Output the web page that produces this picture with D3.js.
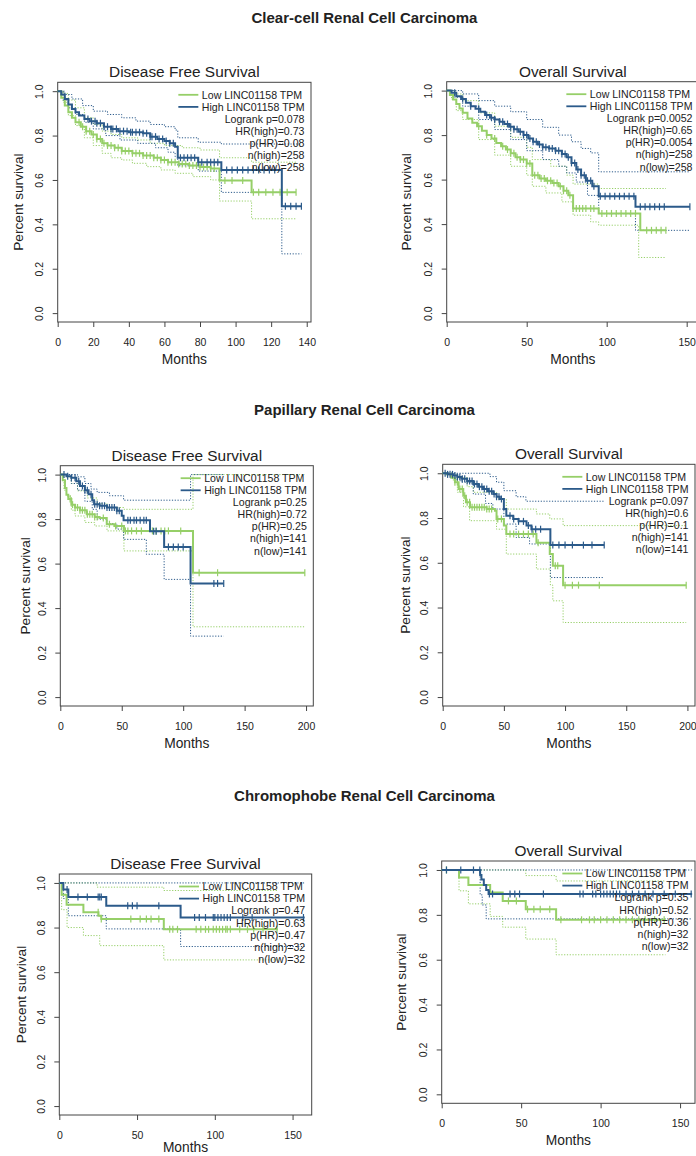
<!DOCTYPE html>
<html>
<head>
<meta charset="utf-8">
<script src="https://cdn.jsdelivr.net/npm/d3@7"></script>
<style>
  body { margin: 0; background: #fff; }
  svg { display: block; }
  text { font-family: "Liberation Sans", Arial, Helvetica, sans-serif; fill: #222; }
</style>
</head>
<body>
<svg id="chart" width="696" height="1156"></svg>
<script>
// ---------- Kaplan–Meier step data: [month, survival after this month] ----------
const groupLabels = ["Low LINC01158 TPM", "High LINC01158 TPM"];
const cancerTitles = ["Clear-cell Renal Cell Carcinoma", "Papillary Renal Cell Carcinoma", "Chromophobe Renal Cell Carcinoma"];
const panelTitles = ["Disease Free Survival", "Overall Survival"];
const yTicks = [0, 0.2, 0.4, 0.6, 0.8, 1.0];
const ticks140 = [0, 20, 40, 60, 80, 100, 120, 140];
const ticks150 = [0, 50, 100, 150];
const ticks200 = [0, 50, 100, 150, 200];

// Clear-cell RCC, disease free survival
const ccDfsHigh = [[0,1],[2,0.985],[4,0.965],[6,0.94],[8,0.92],[10,0.905],[12,0.89],[15,0.875],[18,0.865],[22,0.855],[26,0.84],[30,0.83],[34,0.82],[40,0.815],[48,0.81],[52,0.795],[56,0.785],[60,0.775],[63,0.765],[66,0.75],[67.5,0.70],[79,0.68],[92,0.645],[126,0.482],[137,0.482]];
const ccDfsHighUp = [[0,1],[4,0.985],[8,0.965],[14,0.935],[20,0.91],[28,0.895],[36,0.88],[44,0.865],[52,0.85],[60,0.84],[66,0.825],[67.5,0.79],[79,0.77],[92,0.762],[137,0.762]];
const ccDfsHighLo = [[0,1],[3,0.96],[6,0.925],[10,0.895],[15,0.86],[20,0.83],[27,0.80],[35,0.78],[45,0.765],[55,0.745],[62,0.725],[66,0.705],[67.5,0.664],[79,0.64],[92,0.544],[126,0.267],[137,0.267]];
const ccDfsHighCens = [17,19,21,22,24,26,28,30,31,33,35,37,39,41,42,44,46,48,50,52,53,55,57,59,61,63,65,69,71,73,75,77,79,81,84,86,88,90,95,98,101,104,107,110,113,116,119,122,128,131,134,137];
const ccDfsLow = [[0,1],[2,0.97],[4,0.935],[6,0.905],[8,0.88],[10,0.86],[13,0.84],[16,0.82],[19,0.805],[22,0.785],[25,0.765],[28,0.755],[32,0.745],[36,0.73],[42,0.72],[48,0.71],[54,0.70],[58,0.69],[62,0.68],[68,0.672],[74,0.665],[80,0.658],[86,0.652],[91,0.598],[109,0.545],[134,0.545]];
const ccDfsLowUp = [[0,1],[3,0.99],[6,0.96],[10,0.925],[15,0.88],[20,0.85],[25,0.82],[30,0.805],[36,0.79],[45,0.78],[52,0.765],[60,0.755],[70,0.745],[80,0.735],[91,0.70],[109,0.68],[134,0.68]];
const ccDfsLowLo = [[0,1],[3,0.95],[6,0.89],[10,0.845],[15,0.79],[20,0.755],[25,0.72],[30,0.70],[36,0.69],[42,0.675],[50,0.66],[58,0.645],[66,0.63],[76,0.615],[86,0.60],[91,0.505],[109,0.425],[134,0.425]];
const ccDfsLowCens = [12,14,16,18,20,22,24,26,28,30,32,34,36,38,40,42,44,46,48,50,52,54,56,58,60,62,64,66,68,70,72,74,76,78,80,82,84,86,88,94,98,104,110,113,117,121,125,129,134];
const ccDfsStats = ["Logrank p=0.078", "HR(high)=0.73", "p(HR)=0.08", "n(high)=258", "n(low)=258"];

// Clear-cell RCC, overall survival
const ccOsHigh = [[0,1],[3,0.99],[6,0.975],[9,0.962],[12,0.945],[15,0.93],[18,0.918],[21,0.905],[24,0.89],[27,0.878],[30,0.87],[33,0.86],[36,0.85],[39,0.838],[42,0.826],[45,0.815],[48,0.80],[51,0.785],[54,0.77],[57,0.758],[60,0.745],[64,0.74],[68,0.73],[72,0.715],[75,0.70],[78,0.675],[81,0.645],[84,0.62],[87,0.595],[91,0.57],[95,0.525],[118,0.478],[152,0.478]];
const ccOsHighUp = [[0,1],[10,0.985],[20,0.955],[30,0.93],[40,0.905],[50,0.87],[60,0.835],[70,0.80],[78,0.77],[84,0.74],[90,0.72],[95,0.635],[152,0.635]];
const ccOsHighLo = [[0,1],[5,0.97],[10,0.93],[20,0.87],[30,0.825],[40,0.78],[50,0.73],[60,0.69],[70,0.66],[75,0.63],[81,0.589],[88,0.529],[95,0.447],[118,0.372],[152,0.372]];
const ccOsHighCens = [5,10,15,20,25,28,30,33,35,38,40,42,44,46,48,50,52,54,56,58,60,62,64,66,68,70,72,74,76,78,80,82,84,86,88,90,92,96,99,102,105,108,111,114,117,121,124,127,130,133,136,152];
const ccOsLow = [[0,1],[2,0.98],[4,0.96],[6,0.94],[8,0.92],[10,0.90],[13,0.875],[16,0.855],[19,0.84],[22,0.82],[25,0.80],[28,0.785],[31,0.765],[34,0.75],[37,0.735],[40,0.718],[43,0.70],[46,0.69],[50,0.672],[53.5,0.62],[58,0.605],[62,0.595],[66,0.585],[70,0.57],[73,0.55],[76,0.53],[79,0.47],[95,0.448],[121,0.372],[137,0.372]];
const ccOsLowUp = [[0,1],[5,0.985],[10,0.955],[20,0.90],[30,0.84],[40,0.79],[50,0.745],[53.5,0.69],[65,0.66],[75,0.62],[79,0.58],[95,0.56],[137,0.56]];
const ccOsLowLo = [[0,1],[3,0.96],[6,0.91],[10,0.87],[20,0.78],[30,0.71],[40,0.66],[50,0.62],[53.5,0.57],[62,0.54],[72,0.50],[79,0.44],[90,0.41],[95,0.395],[120,0.25],[137,0.25]];
const ccOsLowCens = [20,25,30,35,38,40,42,44,46,48,50,52,55,57,59,61,63,65,67,69,71,73,75,77,79,81,83,85,87,90,92,97,100,103,106,109,112,115,118,125,128,131,134,137];
const ccOsStats = ["Logrank p=0.0052", "HR(high)=0.65", "p(HR)=0.0054", "n(high)=258", "n(low)=258"];

// Papillary RCC, disease free survival
const pDfsHigh = [[0,1],[5,0.993],[9,0.986],[13,0.97],[16,0.949],[20,0.93],[23,0.912],[26,0.885],[27.5,0.867],[32,0.86],[38,0.852],[46,0.837],[50,0.815],[51.5,0.795],[73,0.745],[84.5,0.675],[106,0.511],[133,0.511]];
const pDfsHighUp = [[0,1],[14,0.99],[20,0.96],[25,0.935],[30,0.92],[40,0.905],[51.5,0.885],[106,1.0],[133,1.0]];
const pDfsHighLo = [[0,1],[9,0.96],[14,0.93],[20,0.88],[26,0.844],[30,0.80],[38,0.78],[46,0.755],[51.5,0.709],[70,0.642],[84.5,0.529],[106,0.274],[133,0.274]];
const pDfsHighCens = [3,6,9,12,15,18,20,22,25,28,30,32,34,36,38,40,42,44,46,48,55,57,60,62,65,68,70,76,78,88,92,96,100,125,128,133];
const pDfsLow = [[0,1],[2,0.975],[3.8,0.94],[5,0.91],[6.5,0.89],[9,0.865],[12,0.852],[16,0.84],[21.5,0.822],[28,0.81],[32,0.805],[37.8,0.777],[44,0.769],[51.8,0.747],[108,0.559],[199,0.559]];
const pDfsLowUp = [[0,1],[5,0.99],[9,0.96],[14,0.927],[22,0.895],[30,0.87],[38,0.852],[51.8,0.844],[108,1.0],[199,1.0]];
const pDfsLowLo = [[0,1],[3,0.93],[5,0.904],[9,0.84],[12,0.814],[20,0.785],[28,0.769],[38,0.747],[51.8,0.657],[108,0.316],[199,0.316]];
const pDfsLowCens = [8,10,12,14,16,18,20,22,24,26,28,30,35,40,45,50,53,55,58,62,66,75,78,82,85,88,98,113,128,199];
const pDfsStats = ["Logrank p=0.25", "HR(high)=0.72", "p(HR)=0.25", "n(high)=141", "n(low)=141"];

// Papillary RCC, overall survival
const pOsHigh = [[0,1],[4,0.995],[8.7,0.99],[12,0.983],[15.5,0.975],[20,0.965],[25,0.952],[29,0.94],[33,0.93],[37,0.92],[41.3,0.907],[44,0.895],[46.7,0.885],[50,0.84],[52,0.81],[57.6,0.796],[62,0.785],[68.5,0.766],[72.5,0.75],[88,0.679],[132,0.679]];
const pOsHighUp = [[0,1],[38.6,0.985],[44,0.96],[50,0.922],[60,0.895],[68,0.875],[132,0.875]];
const pOsHighLo = [[0,1],[8,0.975],[15,0.96],[25,0.907],[35,0.865],[41,0.84],[50,0.773],[60,0.713],[71,0.684],[88,0.534],[132,0.534]];
const pOsHighCens = [2,4,6,8,10,12,14,16,18,20,22,24,26,28,30,32,34,36,38,40,42,44,46,48,55,58,62,66,70,73,76,80,90,95,100,106,115,122,132];
const pOsLow = [[0,1],[3.3,0.995],[7,0.98],[10,0.96],[13,0.93],[16.8,0.90],[19,0.87],[22.3,0.848],[35.9,0.84],[42.7,0.833],[44,0.796],[50,0.766],[52,0.728],[76.6,0.69],[87.5,0.639],[90,0.587],[98.4,0.50],[199,0.50]];
const pOsLowUp = [[0,1],[8,0.995],[12,0.98],[20,0.94],[25,0.915],[44,0.885],[52,0.84],[76.6,0.818],[87.5,0.796],[98.4,0.766],[199,0.766]];
const pOsLowLo = [[0,1],[8,0.97],[12,0.915],[17,0.85],[22,0.788],[44,0.75],[52,0.639],[76.6,0.572],[88,0.50],[90,0.43],[98.4,0.333],[199,0.333]];
const pOsLowCens = [10,12,14,16,18,20,22,24,26,28,30,32,34,36,38,40,45,48,55,58,62,66,70,74,78,92,94,100,106,111,128,199];
const pOsStats = ["Logrank p=0.097", "HR(high)=0.6", "p(HR)=0.1", "n(high)=141", "n(low)=141"];

// Chromophobe RCC, disease free survival
const chDfsHigh = [[0,1],[2.6,0.97],[5.8,0.937],[30.2,0.898],[78,0.845],[157.8,0.845]];
const chDfsHighUp = [[0,1],[157.8,1]];
const chDfsHighLo = [[0,1],[2.6,0.93],[5.8,0.853],[30.2,0.794],[78,0.715],[157.8,0.715]];
const chDfsHighCens = [5,12,18,25,26,27,44,47,50,64,87,90,94,99,100,102,104,106,108,110,118,124,157];
const chDfsLow = [[0,1],[1.5,0.947],[4.7,0.902],[15.5,0.869],[25.2,0.853],[27,0.838],[67.2,0.792],[140.5,0.792]];
const chDfsLowUp = [[0,1],[24.3,0.981],[67.2,0.966],[140.5,0.966]];
const chDfsLowLo = [[0,1],[1.5,0.88],[5,0.80],[15.5,0.764],[26,0.719],[67.2,0.655],[140.5,0.655]];
const chDfsLowCens = [25,27,46,52,56,59,64,71,73,76,88,91,94,96,99,101,103,105,107,108,110,116,121,125,131,140];
const chDfsStats = ["Logrank p=0.47", "HR(high)=0.63", "p(HR)=0.47", "n(high)=32", "n(low)=32"];

// Chromophobe RCC, overall survival
const chOsHigh = [[0,1],[24.2,0.978],[25,0.958],[26.5,0.933],[28,0.911],[29.5,0.893],[157.6,0.893]];
const chOsHighUp = [[0,1],[157.6,1]];
const chOsHighLo = [[0,1],[24.2,0.889],[25.5,0.844],[28,0.782],[157.6,0.782]];
const chOsHighCens = [3,12,20,24,30,32,43,46,49,64,87,89,95,97,100,102,104,106,108,110,112,116,120,124,128,133,140,147,157];
const chOsLow = [[0,1],[10.9,0.967],[16.8,0.933],[30.5,0.90],[38.4,0.862],[52.9,0.825],[72,0.778],[140.8,0.778]];
const chOsLowUp = [[0,1],[52.9,0.975],[72,0.951],[140.8,0.951]];
const chOsLowLo = [[0,1],[10.9,0.907],[16.8,0.849],[30.5,0.793],[38.4,0.745],[52.9,0.692],[72,0.622],[140.8,0.622]];
const chOsLowCens = [3,42,47,54,58,62,68,75,88,93,96,100,104,108,112,116,120,124,128,134,140];
const chOsStats = ["Logrank p=0.35", "HR(high)=0.52", "p(HR)=0.36", "n(high)=32", "n(low)=32"];

// ---------- layout ----------
const colors = { low: "#96cf68", high: "#2b5a8a" };
const panels = [
  { box: [57.7, 311, 82.3, 322],   xMax: 142.4, xTicks: ticks140, title: panelTitles[0], ylab: 39.4, mlab: 37.3,
    low: [ccDfsLow, ccDfsLowUp, ccDfsLowLo, ccDfsLowCens], high: [ccDfsHigh, ccDfsHighUp, ccDfsHighLo, ccDfsHighCens], stats: ccDfsStats },
  { box: [446.7, 699, 81.7, 322],  xMax: 157.7, xTicks: ticks150, title: panelTitles[1], ylab: 40, mlab: 37.3,
    low: [ccOsLow, ccOsLowUp, ccOsLowLo, ccOsLowCens], high: [ccOsHigh, ccOsHighUp, ccOsHighLo, ccOsHighCens], stats: ccOsStats },
  { box: [60.3, 313.3, 465.7, 706], xMax: 205.9, xTicks: ticks200, title: panelTitles[0], ylab: 35, mlab: 37.3,
    low: [pDfsLow, pDfsLowUp, pDfsLowLo, pDfsLowCens], high: [pDfsHigh, pDfsHighUp, pDfsHighLo, pDfsHighCens], stats: pDfsStats },
  { box: [442.7, 695, 464.3, 706],  xMax: 206.2, xTicks: ticks200, title: panelTitles[1], ylab: 37.7, mlab: 37.3,
    low: [pOsLow, pOsLowUp, pOsLowLo, pOsLowCens], high: [pOsHigh, pOsHighUp, pOsHighLo, pOsHighCens], stats: pOsStats },
  { box: [59.3, 311.7, 874, 1115],  xMax: 162.3, xTicks: ticks150, title: panelTitles[0], ylab: 37.6, mlab: 32.5,
    low: [chDfsLow, chDfsLowUp, chDfsLowLo, chDfsLowCens], high: [chDfsHigh, chDfsHighUp, chDfsHighLo, chDfsHighCens], stats: chDfsStats },
  { box: [441.7, 695, 861, 1103.3], xMax: 159.4, xTicks: ticks150, title: panelTitles[1], ylab: 40, mlab: 36.5,
    low: [chOsLow, chOsLowUp, chOsLowLo, chOsLowCens], high: [chOsHigh, chOsHighUp, chOsHighLo, chOsHighCens], stats: chOsStats }
];
const sectionTitleY = [23, 415, 801];

const svg = d3.select("#chart");

// section headings
cancerTitles.forEach((t, i) => {
  svg.append("text").attr("x", 364.5).attr("y", sectionTitleY[i])
    .attr("text-anchor", "middle").attr("font-size", 15).attr("font-weight", "bold").text(t);
});

function survivalAt(steps, t) {
  let v = steps[0][1];
  for (const [m, s] of steps) { if (m <= t) v = s; else break; }
  return v;
}

function drawPanel(p) {
  const [L, R, T, B] = p.box;
  const x = d3.scaleLinear().domain([0, p.xMax]).range([L, R]);
  const y = d3.scaleLinear().domain([-0.04, 1.04]).range([B, T]);
  const g = svg.append("g");

  // axes
  const xa = g.append("g").attr("transform", `translate(0,${B})`)
    .call(d3.axisBottom(x).tickValues(p.xTicks).tickSize(5).tickSizeOuter(0).tickPadding(11.5));
  const ya = g.append("g").attr("transform", `translate(${L},0)`)
    .call(d3.axisLeft(y).tickValues(yTicks).tickFormat(d3.format(".1f")).tickSize(5).tickSizeOuter(0));
  [xa, ya].forEach(a => {
    a.select(".domain").remove();
    a.selectAll("line").attr("stroke", "#444");
    a.selectAll("text").attr("font-size", 10.5).attr("fill", "#222")
      .attr("font-family", '"Liberation Sans", Arial, sans-serif');
  });
  ya.selectAll("text")
    .attr("x", null).attr("dy", "0.35em").attr("text-anchor", "middle")
    .attr("transform", "translate(-18.4,0) rotate(-90)");

  // frame
  g.append("rect").attr("x", L).attr("y", T).attr("width", R - L).attr("height", B - T)
    .attr("fill", "none").attr("stroke", "#444").attr("stroke-width", 1);

  // titles and axis labels
  g.append("text").attr("x", (L + R) / 2).attr("y", T - 5).attr("text-anchor", "middle")
    .attr("font-size", 15.4).text(p.title);
  g.append("text").attr("x", (L + R) / 2).attr("y", B + p.mlab).attr("dy", "0.35em")
    .attr("text-anchor", "middle").attr("font-size", 13.8).text("Months");
  g.append("text").attr("transform", `translate(${L - p.ylab},${(T + B) / 2}) rotate(-90)`)
    .attr("dy", "0.35em").attr("text-anchor", "middle").attr("font-size", 13.7).text("Percent survival");

  const line = d3.line().x(d => x(d[0])).y(d => y(d[1])).curve(d3.curveStepAfter);

  // confidence bands (dotted), then survival curves with censor ticks
  [["low", p.low], ["high", p.high]].forEach(([k, [est, up, lo]]) => {
    [up, lo].forEach(ci => g.append("path").datum(ci).attr("d", line)
      .attr("fill", "none").attr("stroke", colors[k]).attr("stroke-width", 1)
      .attr("stroke-dasharray", "1.2,1.6"));
  });
  [["low", p.low], ["high", p.high]].forEach(([k, [est, up, lo, cens]]) => {
    g.append("path").datum(est).attr("d", line)
      .attr("fill", "none").attr("stroke", colors[k]).attr("stroke-width", 2);
    g.selectAll(null).data(cens).join("line")
      .attr("x1", d => x(d)).attr("x2", d => x(d))
      .attr("y1", d => y(survivalAt(est, d)) - 3.5).attr("y2", d => y(survivalAt(est, d)) + 3.5)
      .attr("stroke", colors[k]).attr("stroke-width", 1.2);
  });

  // legend + statistics
  const rowY = i => T + 12.5 + i * 12.1;
  const probe = g.append("text").attr("font-size", 10.6).text(groupLabels[1]);
  const w = probe.node().getComputedTextLength();
  probe.remove();
  const lx = R - 6.5 - w;
  ["low", "high"].forEach((k, i) => {
    g.append("line").attr("x1", lx - 23.5).attr("x2", lx - 3.5).attr("y1", rowY(i)).attr("y2", rowY(i))
      .attr("stroke", colors[k]).attr("stroke-width", 1.8);
    g.append("text").attr("x", lx).attr("y", rowY(i)).attr("dy", "0.35em")
      .attr("font-size", 10.6).text(groupLabels[i]);
  });
  p.stats.forEach((s, i) => {
    g.append("text").attr("x", R - 6.5).attr("y", rowY(i + 2)).attr("dy", "0.35em")
      .attr("text-anchor", "end").attr("font-size", 10.6).text(s);
  });
}

panels.forEach(drawPanel);
</script>
</body>
</html>
